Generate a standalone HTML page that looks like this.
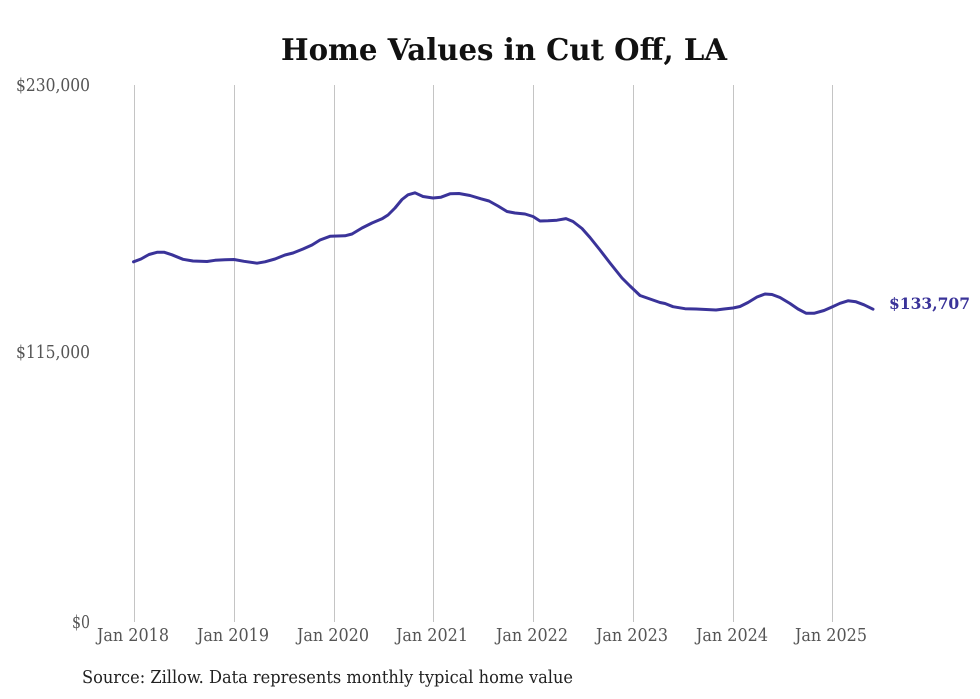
<!DOCTYPE html>
<html><head><meta charset="utf-8"><style>
html,body{margin:0;padding:0;background:#fff;}
svg{display:block;}
.c{font-family:"DejaVu Serif Condensed","DejaVu Serif","Liberation Serif",serif;font-stretch:condensed;}
</style></head><body>
<svg width="980" height="699" viewBox="0 0 980 699" xmlns="http://www.w3.org/2000/svg">
<rect width="980" height="699" fill="#fff"/>
<text class="c" x="504" y="60" text-anchor="middle" font-size="30" font-weight="bold" fill="#111" textLength="446" lengthAdjust="spacingAndGlyphs">Home Values in Cut Off, LA</text>
<g stroke="#c4c4c4" stroke-width="1">
<line x1="134.5" y1="85" x2="134.5" y2="622"/>
<line x1="234.5" y1="85" x2="234.5" y2="622"/>
<line x1="334.5" y1="85" x2="334.5" y2="622"/>
<line x1="433.5" y1="85" x2="433.5" y2="622"/>
<line x1="533.5" y1="85" x2="533.5" y2="622"/>
<line x1="633.5" y1="85" x2="633.5" y2="622"/>
<line x1="733.5" y1="85" x2="733.5" y2="622"/>
<line x1="832.5" y1="85" x2="832.5" y2="622"/>
</g>
<g class="c" font-size="17.5" fill="#555">
<text x="16" y="91" textLength="74" lengthAdjust="spacingAndGlyphs">$230,000</text>
<text x="16" y="358" textLength="74" lengthAdjust="spacingAndGlyphs">$115,000</text>
<text x="72" y="628" textLength="18" lengthAdjust="spacingAndGlyphs">$0</text>
</g>
<g class="c" font-size="18" fill="#555">
<text x="97" y="641" textLength="72" lengthAdjust="spacingAndGlyphs">Jan 2018</text>
<text x="197" y="641" textLength="72" lengthAdjust="spacingAndGlyphs">Jan 2019</text>
<text x="297" y="641" textLength="72" lengthAdjust="spacingAndGlyphs">Jan 2020</text>
<text x="396" y="641" textLength="72" lengthAdjust="spacingAndGlyphs">Jan 2021</text>
<text x="496" y="641" textLength="72" lengthAdjust="spacingAndGlyphs">Jan 2022</text>
<text x="596" y="641" textLength="72" lengthAdjust="spacingAndGlyphs">Jan 2023</text>
<text x="696" y="641" textLength="72" lengthAdjust="spacingAndGlyphs">Jan 2024</text>
<text x="795" y="641" textLength="72" lengthAdjust="spacingAndGlyphs">Jan 2025</text>
</g>
<polyline fill="none" stroke="#3a3399" stroke-width="3" stroke-linejoin="round" stroke-linecap="round" points="
133.5,261.8 141,259 149,254.5 157,252.3 164,252.2 172,254.8 183,259.3 193,261 200,261.2 207,261.5 215,260.3 225,259.8 234,259.5 244,261.3 257,263.2 265,261.8 275,259 285,255 293,253 303,249 312,245 320,240 330,236.3 345,235.8 352,234 362,228 372,223 382,218.8 388,215 395,208 402,199.5 408,194.8 415,192.8 423,196.5 433,198 441,197.2 450,193.8 459,193.5 470,195.5 481,198.8 489,201 498,206 507,211.5 515,213 525,214 533,216.5 540,221 548,220.8 557,220.2 566,218.6 573,221.5 582,228.5 590,237.5 600,250 610,263 622,278 630,286 640,295.5 650,299 660,302.5 665,303.5 673,306.7 685,308.7 696,309 706,309.5 716,310 724,309 733,308 740,306.5 748,302.5 757,297 765,294 772,294.5 780,297.5 790,303.5 798,309 806,313.2 814,313.3 824,310.5 832,307 840,303.3 848,300.8 856,301.8 864,304.8 873,309.2"/>
<text x="889" y="309" font-family="'DejaVu Serif','Liberation Serif',serif" font-size="16" font-weight="bold" fill="#3a3399" textLength="81" lengthAdjust="spacingAndGlyphs">$133,707</text>
<text class="c" x="82" y="683" font-size="18" fill="#222" textLength="491" lengthAdjust="spacingAndGlyphs">Source: Zillow. Data represents monthly typical home value</text>
</svg>
</body></html>
